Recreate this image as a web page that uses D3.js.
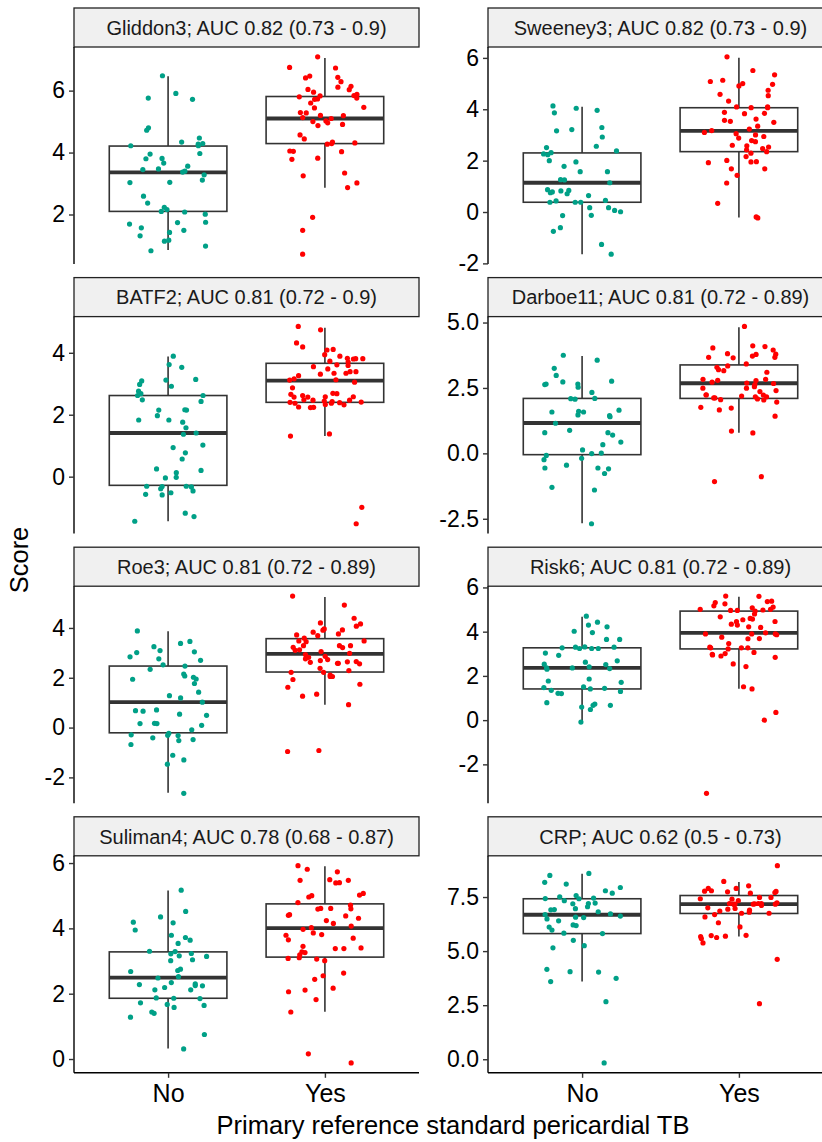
<!DOCTYPE html>
<html><head><meta charset="utf-8">
<script src="https://cdn.jsdelivr.net/npm/d3@7"></script>
<style>body{margin:0;background:#fff}svg{display:block;font-family:"Liberation Sans",Arial,sans-serif}</style>
</head><body><div id="chart"></div>
<script>
const groups = ["No", "Yes"];
const panelTitles = [
  "Gliddon3; AUC 0.82 (0.73 - 0.9)", "Sweeney3; AUC 0.82 (0.73 - 0.9)",
  "BATF2; AUC 0.81 (0.72 - 0.9)", "Darboe11; AUC 0.81 (0.72 - 0.89)",
  "Roe3; AUC 0.81 (0.72 - 0.89)", "Risk6; AUC 0.81 (0.72 - 0.89)",
  "Suliman4; AUC 0.78 (0.68 - 0.87)", "CRP; AUC 0.62 (0.5 - 0.73)"
];
const yTickValues = [
  [2, 4, 6], [-2, 0, 2, 4, 6],
  [0, 2, 4], [-2.5, 0, 2.5, 5],
  [-2, 0, 2, 4], [-2, 0, 2, 4, 6],
  [0, 2, 4, 6], [0, 2.5, 5, 7.5]
];
const yTickLabels = [
  ["2", "4", "6"], ["-2", "0", "2", "4", "6"],
  ["0", "2", "4"], ["-2.5", "0.0", "2.5", "5.0"],
  ["-2", "0", "2", "4"], ["-2", "0", "2", "4", "6"],
  ["0", "2", "4", "6"], ["0.0", "2.5", "5.0", "7.5"]
];
// box stats: [lower whisker, Q1, median, Q3, upper whisker]
const boxNo = [
  [0.85, 2.10, 3.36, 4.21, 6.46], [-1.64, 0.38, 1.14, 2.30, 4.10],
  [-1.44, -0.28, 1.41, 2.62, 3.88], [-2.67, -0.05, 1.16, 2.10, 3.72],
  [-2.62, -0.21, 1.02, 2.47, 3.87], [-0.08, 1.41, 2.36, 3.27, 4.67],
  [0.32, 1.86, 2.49, 3.28, 5.16], [3.59, 5.81, 6.68, 7.42, 8.58]
];
const boxYes = [
  [2.86, 4.29, 5.10, 5.81, 7.05], [-0.21, 2.35, 3.16, 4.06, 6.01],
  [1.31, 2.40, 3.10, 3.66, 4.81], [0.79, 2.10, 2.68, 3.38, 4.82],
  [0.92, 2.23, 2.96, 3.57, 5.24], [1.42, 3.22, 3.95, 4.93, 5.58],
  [1.45, 3.12, 4.01, 4.75, 5.90], [5.67, 6.74, 7.17, 7.57, 8.19]
];
const scoresNo = [
  [6.48,5.72,5.76,5.91,4.80,4.72,4.47,4.34,4.22,4.29,4.27,4.22,3.97,3.95,3.80,3.66,3.81,3.56,3.47,3.37,3.28,3.45,3.40,3.11,3.04,3.03,2.59,2.37,2.23,2.16,2.08,2.10,2.01,1.75,1.74,1.57,1.49,1.42,1.69,1.31,1.17,1.14,0.98,0.83],
  [4.13,4.04,3.96,3.86,3.16,3.29,3.21,2.92,2.56,2.51,2.38,2.31,2.23,2.26,2.0,1.95,1.78,1.57,1.57,1.26,1.25,1.14,0.87,0.78,0.75,0.82,0.84,0.71,0.64,0.45,0.43,0.38,0.38,0.38,0.17,0.17,0.01,0.06,-0.13,-0.14,-0.61,-0.75,-1.26,-1.64],
  [3.89,3.62,3.53,3.12,3.14,3.09,2.98,2.92,2.76,2.68,2.62,2.62,2.43,2.48,2.15,2.15,2.16,1.97,1.83,1.83,1.76,1.58,1.41,1.37,1.02,0.94,0.77,0.57,0.25,0.13,0.20,-0.02,-0.04,-0.31,-0.32,-0.33,-0.31,-0.39,-0.46,-0.52,-0.59,-0.57,-1.18,-1.29,-1.44],
  [3.75,3.56,3.25,2.98,2.76,2.65,2.65,2.73,2.63,2.53,2.33,2.07,2.10,2.09,1.65,1.58,1.47,1.44,1.40,1.61,1.58,1.15,0.79,0.79,0.88,0.70,0.43,0.33,0.13,0.01,-0.08,-0.19,-0.01,-0.24,-0.45,-0.56,-0.56,-0.59,-0.77,-1.30,-1.40,-2.69],
  [3.88,3.46,3.38,3.04,3.09,3.01,3.25,2.84,2.76,2.70,2.52,2.47,2.34,2.15,2.02,2.07,1.95,1.94,1.77,1.42,1.28,1.19,1.02,0.71,0.68,0.66,0.54,0.49,0.09,0.16,0.17,0.16,-0.09,-0.23,-0.31,-0.29,-0.41,-0.32,-0.52,-0.48,-0.68,-1.11,-1.30,-1.47,-2.64],
  [4.70,4.43,4.22,4.30,4.02,3.96,3.65,3.65,3.30,3.30,3.31,3.24,3.27,3.24,3.24,3.03,2.93,2.68,2.62,2.51,2.53,2.41,2.36,2.36,2.33,2.30,1.86,1.77,1.71,1.41,1.44,1.50,1.47,1.35,1.30,1.20,1.21,0.79,0.73,0.67,0.67,0.59,0.48,-0.09],
  [5.17,4.52,4.35,4.17,4.19,3.95,3.79,3.72,3.64,3.54,3.22,3.23,3.30,3.29,3.14,3.16,3.01,3.04,2.71,2.75,2.68,2.48,2.52,2.30,2.34,2.28,2.24,2.19,2.12,2.25,2.12,1.85,1.87,1.86,1.67,1.64,1.72,1.58,1.44,1.40,1.28,0.75,0.31],
  [8.59,8.50,8.18,8.10,7.68,7.94,7.79,7.42,7.43,7.45,7.51,7.57,7.33,7.20,7.19,7.22,7.05,6.96,6.91,6.92,6.82,6.72,6.69,6.57,6.62,6.55,6.49,6.40,6.21,6.11,6.18,5.97,5.83,5.81,5.50,5.25,5.15,4.16,4.05,4.03,3.74,3.59,2.66,-0.17]
];
const scoresYes = [
  [7.09,6.73,6.75,6.43,6.47,6.29,6.41,6.14,6.03,6.04,6.11,5.95,5.83,5.80,5.73,5.88,5.76,5.84,5.72,5.60,5.44,5.46,5.29,5.28,5.19,5.20,5.13,5.10,5.02,5.00,4.96,4.87,4.91,4.57,4.44,4.34,4.31,4.29,4.27,4.05,4.04,4.03,3.82,3.78,3.34,3.25,3.02,2.87,1.91,1.49,0.72],
  [6.04,5.51,5.34,5.08,5.13,4.97,5.0,4.91,4.58,4.53,4.74,4.32,4.09,4.06,4.09,4.06,3.88,3.83,3.84,3.62,3.57,3.53,3.49,3.34,3.23,3.17,3.05,3.0,3.10,2.94,2.88,2.78,2.74,2.6,2.53,2.47,2.35,2.58,2.42,2.29,2.16,1.96,1.95,1.92,2.01,1.68,1.68,1.43,1.13,0.34,-0.23,-0.19],
  [4.85,4.74,4.32,4.19,4.11,4.09,3.94,3.82,3.81,3.81,3.80,3.73,3.89,3.70,3.61,3.55,3.59,3.39,3.34,3.39,3.31,3.48,3.34,3.26,3.16,3.13,3.05,3.12,2.87,2.68,2.66,2.69,2.58,2.58,2.57,2.57,2.48,2.42,2.44,2.41,2.47,2.37,2.32,2.37,2.40,2.47,2.62,2.39,2.25,2.24,2.33,2.23,1.38,1.31,-0.99,-1.52],
  [4.85,4.11,4.08,4.03,3.95,3.79,3.72,3.81,3.67,3.78,3.67,3.65,3.42,3.34,3.29,3.20,3.16,3.10,2.79,2.83,2.72,2.83,2.78,2.69,2.63,2.67,2.55,2.36,2.40,2.49,2.49,2.23,2.16,2.08,2.12,2.24,2.19,2.23,2.12,2.16,2.04,1.96,2.05,1.73,1.66,1.76,1.42,0.78,0.85,-0.89,-1.08],
  [5.28,4.92,4.39,4.16,4.07,4.20,3.96,3.91,3.92,3.83,3.72,3.76,3.69,3.59,3.48,3.48,3.45,3.29,3.29,3.29,3.22,3.21,3.10,3.12,2.98,3.05,2.82,2.93,2.86,2.64,2.69,2.76,2.62,2.65,2.58,2.73,2.58,2.56,2.38,2.29,2.22,2.22,2.11,2.05,2.05,1.93,1.74,1.62,1.34,1.26,0.92,-0.96,-0.92],
  [5.61,5.60,5.26,5.36,5.38,5.01,5.08,5.11,5.32,5.17,5.01,4.93,4.96,4.98,4.96,4.80,4.67,4.57,4.60,4.54,4.46,4.45,4.34,4.30,4.22,4.19,3.90,3.90,3.95,3.90,3.86,3.69,3.75,3.68,3.46,3.27,3.27,3.22,3.30,3.27,3.06,3.01,2.95,2.98,2.90,2.84,2.54,2.42,1.41,1.51,0.35,0.0,-3.31],
  [5.92,5.81,5.73,5.40,5.47,5.47,5.49,5.39,5.00,4.96,5.02,5.07,4.79,4.71,4.59,4.60,4.61,4.61,4.42,4.40,4.38,4.31,4.24,4.15,4.07,4.02,3.97,3.86,3.79,3.81,3.70,3.65,3.45,3.38,3.40,3.38,3.26,3.28,3.19,3.06,3.08,3.10,3.01,2.63,2.55,2.44,2.17,2.11,2.06,1.82,1.44,0.16,-0.12],
  [8.95,8.22,8.02,7.90,7.90,7.76,7.74,7.79,7.71,7.77,7.68,7.48,7.48,7.40,7.42,7.33,7.19,7.23,7.17,7.16,7.17,7.17,7.20,7.20,7.20,7.11,6.94,7.00,6.89,6.97,6.85,6.75,6.75,6.80,6.69,6.58,6.31,6.12,5.72,5.73,5.67,5.69,5.58,5.63,5.38,4.62,2.57]
];
const colors = ["#00A087", "#FF0000"];

const W = 822, H = 1142;
const svg = d3.select("#chart").append("svg").attr("width", W).attr("height", H);
const colX = [74, 488], panelW = 345, panelH = 217, stripH = 39;
const rowTop = r => 47 + 269.6 * r;
const rng = d3.randomLcg(0.4217);
const lineCol = "#333333";

panelTitles.forEach((title, i) => {
  const col = i % 2, row = Math.floor(i / 2);
  const x0 = colX[col], y0 = rowTop(row);
  const all = scoresNo[i].concat(scoresYes[i]);
  const [mn, mx] = d3.extent(all);
  const pad = (mx - mn) * 0.05;
  const y = d3.scaleLinear().domain([mn - pad, mx + pad]).range([y0 + panelH, y0]);
  const x = d3.scalePoint().domain(groups).range([x0, x0 + panelW]).padding(0.6);
  const step = x.step();
  const g = svg.append("g");

  // strip
  g.append("rect").attr("x", x0).attr("y", y0 - stripH).attr("width", panelW).attr("height", stripH)
    .attr("fill", "#F0F0F0").attr("stroke", "#222").attr("stroke-width", 1.3);
  g.append("text").attr("x", x0 + panelW / 2).attr("y", y0 - stripH / 2).attr("dy", "0.36em")
    .attr("text-anchor", "middle").attr("font-size", 20).attr("fill", "#1A1A1A").text(title);

  // boxes
  [boxNo[i], boxYes[i]].forEach((b, k) => {
    const cx = x(groups[k]), bw = step * 0.75;
    g.append("line").attr("x1", cx).attr("x2", cx).attr("y1", y(b[0])).attr("y2", y(b[1]))
      .attr("stroke", lineCol).attr("stroke-width", 1.6);
    g.append("line").attr("x1", cx).attr("x2", cx).attr("y1", y(b[3])).attr("y2", y(b[4]))
      .attr("stroke", lineCol).attr("stroke-width", 1.6);
    g.append("rect").attr("x", cx - bw / 2).attr("width", bw).attr("y", y(b[3])).attr("height", y(b[1]) - y(b[3]))
      .attr("fill", "white").attr("stroke", lineCol).attr("stroke-width", 1.6);
    g.append("line").attr("x1", cx - bw / 2).attr("x2", cx + bw / 2).attr("y1", y(b[2])).attr("y2", y(b[2]))
      .attr("stroke", lineCol).attr("stroke-width", 3.8);
  });

  // jittered points
  [scoresNo[i], scoresYes[i]].forEach((vals, k) => {
    g.append("g").selectAll("circle").data(vals).join("circle")
      .attr("cx", () => x(groups[k]) + (rng() - 0.5) * 0.5 * step)
      .attr("cy", d => y(d)).attr("r", 2.6).attr("fill", colors[k]);
  });

  // y axis
  const ax = g.append("g").attr("transform", `translate(${x0},0)`)
    .call(d3.axisLeft(y).tickValues(yTickValues[i]).tickSize(5).tickPadding(4)
      .tickFormat((d, j) => yTickLabels[i][j]));
  ax.select(".domain").attr("d", `M0,${y0}V${y0 + panelH}`).attr("stroke", "#000").attr("stroke-width", 1.4);
  ax.selectAll(".tick line").attr("stroke", "#333").attr("stroke-width", 1.4);
  ax.selectAll(".tick text").attr("font-size", 23).attr("fill", "#000").attr("font-family", "Liberation Sans, Arial, sans-serif");

  if (row === 3) {
    const bx = g.append("g").attr("transform", `translate(0,${y0 + panelH})`)
      .call(d3.axisBottom(x).tickSize(5).tickPadding(6));
    bx.select(".domain").attr("d", `M${x0},0H${x0 + panelW}`).attr("stroke", "#000").attr("stroke-width", 1.4);
    bx.selectAll(".tick line").attr("stroke", "#333").attr("stroke-width", 1.4);
    bx.selectAll(".tick text").attr("font-size", 25).attr("fill", "#000").attr("font-family", "Liberation Sans, Arial, sans-serif");
  }
});

svg.append("text").attr("x", 453).attr("y", 1134).attr("text-anchor", "middle")
  .attr("font-size", 25.5).attr("fill", "#000").text("Primary reference standard pericardial TB");
svg.append("text").attr("transform", "translate(28,560) rotate(-90)").attr("text-anchor", "middle")
  .attr("font-size", 25.5).attr("fill", "#000").text("Score");
</script></body></html>
